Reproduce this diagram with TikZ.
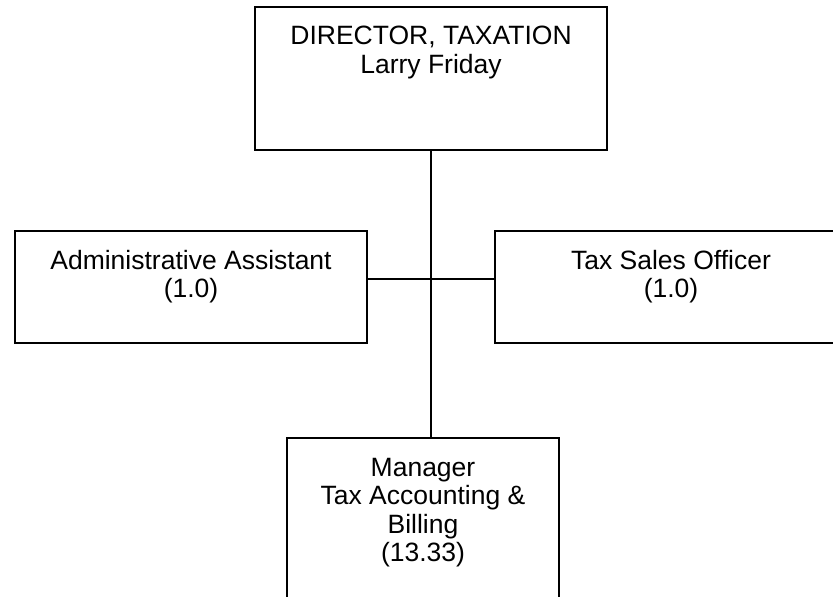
\documentclass[tikz,border=0pt]{standalone}
\usepackage{fontspec}
\setmainfont{Liberation Sans}
\begin{document}
\begin{tikzpicture}[x=1pt,y=-1pt,
  box/.style={draw, line width=2pt, inner sep=0pt, outer sep=0pt, anchor=north west},
  txt/.style={font=\fontsize{26.5}{28.5}\selectfont, align=center, anchor=north, inner sep=0pt},
  link/.style={line width=2pt}]
  \useasboundingbox (0,0) rectangle (833,597);
  \clip (0,0) rectangle (833,597);
  % boxes
  \node[box, minimum width=352pt, minimum height=143pt] (dir) at (255,7) {};
  \node[box, minimum width=352pt, minimum height=112pt] (adm) at (15,231) {};
  \node[box, minimum width=352pt, minimum height=112pt] (tso) at (495,231) {};
  \node[box, minimum width=272pt, minimum height=190pt] (mgr) at (287,438) {};
  % labels
  \node[txt] (dirT) at ([yshift=-19pt]dir.north) {DIRECTOR, TAXATION\\Larry Friday};
  \node[txt] (admT) at ([yshift=-19pt]adm.north) {Administrative Assistant\\(1.0)};
  \node[txt] (tsoT) at ([yshift=-19pt]tso.north) {Tax Sales Officer\\(1.0)};
  \node[txt] (mgrT) at ([yshift=-20pt]mgr.north) {Manager\\Tax Accounting \&\\Billing\\(13.33)};
  % connectors
  \coordinate (hub) at (431,279);
  \draw[link] (dir.south) -- (dir.south |- mgr.north);
  \draw[link] (adm.east |- hub) -- (tso.west |- hub);
\end{tikzpicture}
\end{document}
